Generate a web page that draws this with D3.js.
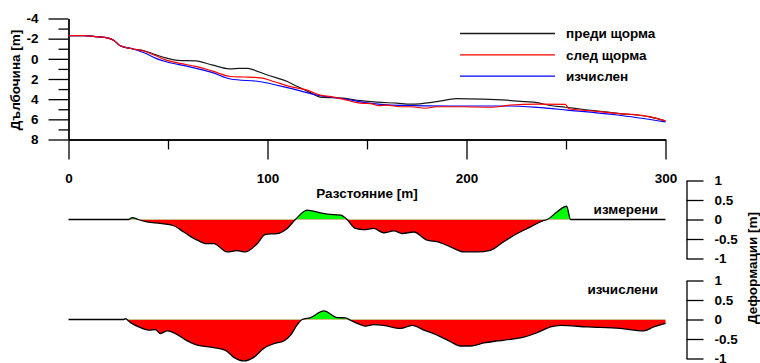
<!DOCTYPE html>
<html><head><meta charset="utf-8">
<script src="https://cdn.jsdelivr.net/npm/d3@7"></script>
<style>body{margin:0;background:#fff}svg{display:block}text{font-family:"Liberation Sans",Arial,sans-serif;font-weight:bold;font-size:13.5px;fill:#000}</style>
</head><body><svg id="c" width="760" height="363"></svg>
<script>
// ---- data ----
const beforeDist = [0,8,14,20,23,26,32,38,44,48.7,55,64,72,81,86,90,93,100,110,115,121,126.6,138,146.7,155,165,172,185,195,208,220,229.6,235.5,241.4,249.7,260,276,292,300];
const beforeDepth = [-2.3,-2.3,-2.2,-2.05,-1.8,-1.3,-1.0,-0.8,-0.4,-0.1,0.15,0.2,0.6,1.0,0.95,0.95,1.1,1.6,2.25,2.75,3.3,3.8,3.9,4.15,4.3,4.4,4.5,4.25,3.95,4.0,4.1,4.25,4.35,4.6,4.8,5.05,5.4,5.75,6.15];
const afterDist = [0,8,14,20,23,26,32,38,44,48.7,56,64,72,81.4,88,96.5,104,111.6,120,126.6,132,138,146.7,152,156,160,166.8,172,179.4,185,198.5,212,218,222,235.5,249.7,251.5,262,275.7,292.5,300];
const afterDepth = [-2.3,-2.3,-2.2,-2.05,-1.8,-1.3,-1.0,-0.75,-0.3,0.1,0.45,0.75,1.2,1.75,1.8,1.88,2.3,2.75,3.1,3.6,3.75,4.0,4.4,4.45,4.65,4.6,4.75,4.75,4.9,4.75,4.75,4.8,4.7,4.58,4.49,4.52,4.95,5.15,5.4,5.75,6.15];
const calcDist = [0,8,14,20,23,26,32,38,44,48.7,60,72,81.4,96.5,111.6,126.6,138,146.7,166.8,192,222,235.5,250.6,275.7,300];
const calcDepth = [-2.3,-2.3,-2.2,-2.05,-1.8,-1.3,-1.0,-0.6,-0.05,0.26,0.75,1.35,2.0,2.27,2.93,3.66,3.96,4.26,4.62,4.68,4.68,4.81,5.08,5.57,6.25];

const measDist = [0,30.3,32,35,39.5,46.2,52.9,57.9,64.7,69.7,73,79.7,84.7,88.9,94.8,99,104.9,109.9,114,119.9,126.6,130,136.7,140,144.2,148.4,153.4,158.4,163.5,167.7,173.5,180.2,185.2,191.9,198.6,205.3,212,218.7,225.5,232.2,238,240.6,245.6,250.3,252.3,300];
const measDef = [0,0,0.05,0,-0.06,-0.1,-0.16,-0.32,-0.53,-0.62,-0.62,-0.83,-0.8,-0.83,-0.62,-0.38,-0.36,-0.23,0,0.24,0.17,0.14,0.11,0,-0.23,-0.26,-0.23,-0.34,-0.29,-0.36,-0.32,-0.53,-0.57,-0.7,-0.83,-0.83,-0.79,-0.57,-0.36,-0.19,-0.04,0,0.2,0.34,0,0];
const compDist = [0,27.8,28.5,31.2,35.3,40.4,43.7,46.2,49.6,53.8,59.7,64.7,73,78.9,83.1,88.1,93.1,98.1,103.2,108.2,111.6,114.9,117.4,121.6,128.3,135,139.2,141.7,146.7,149.2,153.4,158.4,166.8,172.7,178.6,185.3,192,197,202,208.7,215.4,222.1,228.8,235.5,242.2,247.2,260.6,277.4,289.1,294.1,300];
const compDef = [0,0,0.02,-0.08,-0.19,-0.27,-0.26,-0.36,-0.29,-0.36,-0.55,-0.66,-0.72,-0.79,-0.97,-1.06,-0.97,-0.74,-0.62,-0.55,-0.4,-0.14,0,0.05,0.22,0.05,0.04,-0.02,-0.13,-0.17,-0.13,-0.15,-0.23,-0.15,-0.27,-0.4,-0.57,-0.68,-0.68,-0.6,-0.55,-0.51,-0.45,-0.34,-0.19,-0.15,-0.19,-0.23,-0.29,-0.19,-0.1];

const depthTicksMajor = [-4,-2,0,2,4,6,8];
const depthTicksMinor = [-3,-1,1,3,5,7];
const distTicksMajor = [0,100,200,300];
const distTicksMinor = [50,150,250];
const defTicks = [-1,-0.5,0,0.5,1];
const seriesNames = ["преди щорма","след щорма","изчислен"];
const seriesColors = ["#1a1a1a","#ff0000","#0000ff"];

// ---- chart ----
const svg = d3.select("#c");
const x = d3.scaleLinear().domain([0,300]).range([68.5,665.5]);
const yTop = d3.scaleLinear().domain([-4,8]).range([18.5,139.5]);
const yM = d3.scaleLinear().domain([-1,1]).range([258.5,180.5]);
const yC = d3.scaleLinear().domain([-1,1]).range([358.5,280.5]);
const fmt = d => String(d);

function styleAxis(g){ g.selectAll("path,line").attr("stroke","#000").attr("stroke-width",1.3); g.selectAll("text").attr("font-family",null).attr("font-size",null); }

// y axis (depth)
svg.append("g").attr("transform","translate(68.5,0)")
  .call(d3.axisLeft(yTop).tickValues(depthTicksMinor).tickSize(10).tickSizeOuter(0).tickFormat(""))
  .call(styleAxis);
svg.append("g").attr("transform","translate(68.5,0)")
  .call(d3.axisLeft(yTop).tickValues(depthTicksMajor).tickSize(20).tickSizeOuter(0).tickPadding(10).tickFormat(fmt))
  .call(styleAxis);
// x axis (distance)
svg.append("g").attr("transform","translate(0,139.5)")
  .call(d3.axisBottom(x).tickValues(distTicksMinor).tickSize(10).tickSizeOuter(0).tickFormat(""))
  .call(styleAxis);
svg.append("g").attr("transform","translate(0,139.5)")
  .call(d3.axisBottom(x).tickValues(distTicksMajor).tickSize(20).tickSizeOuter(0).tickPadding(14).tickFormat(fmt))
  .call(styleAxis);

svg.append("text").attr("transform","translate(20,80) rotate(-90)").attr("text-anchor","middle").text("Дълбочина [m]");
svg.append("text").attr("x",367).attr("y",198).attr("text-anchor","middle").text("Разстояние [m]");

// profiles
const profiles = [[beforeDist,beforeDepth],[calcDist,calcDepth],[afterDist,afterDepth]];
const colIdx = [0,2,1];
const line = d3.line().x(d=>x(d[0])).y(d=>yTop(d[1])).curve(d3.curveMonotoneX);
profiles.forEach((p,i)=>{
  const pts = p[0].map((d,j)=>[d,p[1][j]]);
  svg.append("path").attr("d",line(pts)).attr("fill","none").attr("stroke",seriesColors[colIdx[i]]).attr("stroke-width",1.2);
});

// legend
seriesNames.forEach((n,i)=>{
  const yy = 33.5 + i*21.3;
  svg.append("line").attr("x1",460).attr("x2",555).attr("y1",yy).attr("y2",yy).attr("stroke",seriesColors[i]).attr("stroke-width",1.3);
  svg.append("text").attr("x",566).attr("y",yy).attr("dy","0.35em").text(n);
});

// deformation panels
const defs = svg.append("defs");
function panel(dist, vals, y, id, label, labelY){
  const pts = dist.map((d,j)=>[d,vals[j]]);
  const y0 = y(0);
  defs.append("clipPath").attr("id",id+"pos").append("rect").attr("x",0).attr("y",0).attr("width",760).attr("height",y0);
  defs.append("clipPath").attr("id",id+"neg").append("rect").attr("x",0).attr("y",y0).attr("width",760).attr("height",363-y0);
  const area = d3.area().x(d=>x(d[0])).y0(y0).y1(d=>y(d[1])).curve(d3.curveMonotoneX);
  svg.append("path").attr("d",area(pts)).attr("fill","#00ff00").attr("clip-path",`url(#${id}pos)`);
  svg.append("path").attr("d",area(pts)).attr("fill","#ff0000").attr("clip-path",`url(#${id}neg)`);
  const l = d3.line().x(d=>x(d[0])).y(d=>y(d[1])).curve(d3.curveMonotoneX);
  svg.append("path").attr("d",l(pts)).attr("fill","none").attr("stroke","#000").attr("stroke-width",1.3);
  svg.append("g").attr("transform","translate(686.5,0)")
    .call(d3.axisRight(y).tickValues(defTicks).tickSize(17).tickSizeOuter(0).tickPadding(11).tickFormat(fmt))
    .call(styleAxis);
  svg.append("text").attr("x",658).attr("y",labelY).attr("text-anchor","end").text(label);
}
panel(measDist, measDef, yM, "m", "измерени", 214);
panel(compDist, compDef, yC, "k", "изчислени", 294);
svg.append("text").attr("transform","translate(757,268) rotate(-90)").attr("text-anchor","middle").text("Деформации [m]");
</script></body></html>
